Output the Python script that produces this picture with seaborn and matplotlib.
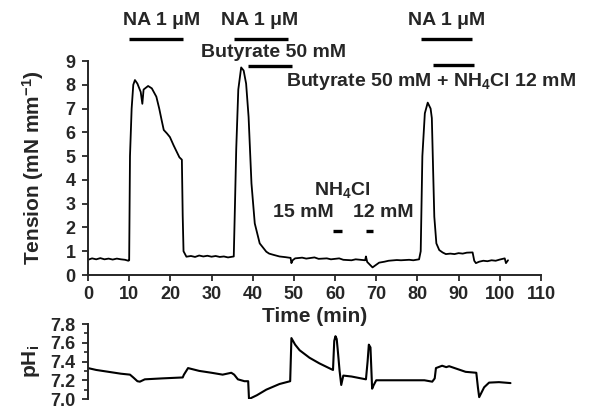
import matplotlib
matplotlib.use("Agg")
import matplotlib.pyplot as plt
import seaborn as sns
import pandas as pd

# ---- data ----
tension_time = [0, 1, 2, 3, 4, 5, 6, 7, 8, 9, 9.8, 10.0, 10.2, 10.6, 11.0, 11.4, 12.0, 12.8, 13.2,
                13.5, 14.6, 15.5, 16.6, 17.3, 17.9, 18.4, 19.2, 19.9, 20.8, 21.5, 22.2, 22.8,
                23.0, 23.2, 23.9, 25, 26, 27, 28, 29, 30, 31, 32, 33, 34, 35.4, 35.7, 36.0, 36.5,
                37.2, 37.8, 38.4, 39.0, 39.7, 40.5, 41.7, 43.3, 44, 45, 46.5, 48, 49.2, 49.4,
                49.7, 50.3, 52, 53, 55, 56, 58, 59, 61, 62, 64, 65, 67.3, 67.5, 67.8, 69.1,
                70.7, 72, 73, 75, 76, 78, 79, 80.4, 80.8, 81.2, 81.8, 82.5, 83.2, 83.5, 83.8,
                84.1, 84.6, 85.3, 86.1, 86.9, 88, 89, 90, 91, 92, 93.4, 93.8, 94.2, 95, 96,
                97, 98, 99, 100, 101.2, 101.5, 102]
tension_value = [0.64, 0.70, 0.66, 0.71, 0.66, 0.69, 0.65, 0.69, 0.66, 0.64, 0.60, 0.62, 5.0,
                 7.0, 8.0, 8.2, 8.05, 7.7, 7.2, 7.8, 7.95, 7.85, 7.5, 7.0, 6.5, 6.1, 5.95, 5.8,
                 5.45, 5.2, 4.95, 4.85, 2.5, 1.0, 0.77, 0.80, 0.76, 0.82, 0.78, 0.81, 0.77,
                 0.80, 0.76, 0.78, 0.74, 0.78, 3.0, 5.3, 7.8, 8.73, 8.6, 8.05, 6.65, 3.85, 2.17,
                 1.33, 0.98, 0.90, 0.85, 0.78, 0.75, 0.72, 0.50, 0.62, 0.70, 0.73, 0.69, 0.74,
                 0.68, 0.70, 0.66, 0.70, 0.64, 0.62, 0.66, 0.62, 0.78, 0.55, 0.32, 0.52, 0.56,
                 0.60, 0.63, 0.62, 0.64, 0.62, 0.66, 1.0, 5.0, 6.8, 7.25, 7.0, 6.6, 4.5, 2.45,
                 1.33, 1.05, 0.95, 0.88, 0.90, 0.88, 0.92, 0.90, 0.94, 0.95, 0.60, 0.50, 0.56,
                 0.60, 0.58, 0.62, 0.60, 0.65, 0.70, 0.50, 0.62]

ph_time = [0, 2, 5, 8, 10.2, 11.0, 12.0, 12.6, 13.8, 18, 23.0, 23.3, 24.3, 27, 30, 32.7, 34.8,
           35.5, 36.4, 38, 38.9, 39.1, 41, 43.3, 46.5, 49.1, 49.4, 50.3, 51.4, 53.8, 56.2, 59,
           59.5, 59.8, 60.1, 60.4, 60.7, 61.1, 61.5, 62, 64, 67.5, 67.9, 68.2, 68.6, 69.0,
           69.4, 70, 75.6, 81.7, 83.6, 84.2, 84.5, 86, 87, 87.7, 89.7, 91.7, 94.3, 94.7, 95,
           96.2, 97.4, 99.8, 102.6]
ph_value = [7.33, 7.31, 7.29, 7.27, 7.26, 7.23, 7.19, 7.185, 7.21, 7.22, 7.23, 7.26, 7.33, 7.30,
            7.28, 7.26, 7.28, 7.26, 7.21, 7.19, 7.19, 7.00, 7.04, 7.10, 7.16, 7.19, 7.65, 7.58,
            7.52, 7.44, 7.38, 7.32, 7.31, 7.62, 7.67, 7.64, 7.50, 7.30, 7.15, 7.25, 7.24, 7.21,
            7.40, 7.58, 7.55, 7.11, 7.15, 7.20, 7.20, 7.20, 7.185, 7.22, 7.33, 7.355, 7.34,
            7.35, 7.32, 7.29, 7.28, 7.12, 7.02, 7.125, 7.175, 7.18, 7.17]

x_ticks = [0, 10, 20, 30, 40, 50, 60, 70, 80, 90, 100, 110]
tension_ticks = [0, 1, 2, 3, 4, 5, 6, 7, 8, 9]
ph_ticks = [7.0, 7.2, 7.4, 7.6, 7.8]
ph_ticks_minor = [7.1, 7.3, 7.5, 7.7]

na_bars = [(10, 23), (35.4, 48.5), (80.8, 93.2)]
na_text_x = [17.9, 41.7, 87.0]
butyrate_bar = (38.8, 49.6)
butyrate_nh4_bar = (83.9, 93.8)
nh4_bars = [(59.4, 61.7), (67.5, 69.3)]

# ---- plotting ----
sns.set_style("ticks")
plt.rcParams['font.family'] = ['Liberation Sans', 'DejaVu Sans']
plt.rcParams['mathtext.fontset'] = 'custom'
plt.rcParams['mathtext.rm'] = 'Liberation Sans:bold'
plt.rcParams['mathtext.it'] = 'Liberation Sans:bold'
plt.rcParams['mathtext.bf'] = 'Liberation Sans:bold'

fig = plt.figure(figsize=(6.01, 4.09), dpi=100)
ax1 = fig.add_axes([0.1464, 0.3276, 0.7537, 0.5232])
ax2 = fig.add_axes([0.1464, 0.0244, 0.7537, 0.1834])
ax2.patch.set_visible(False)

df_t = pd.DataFrame({"time": tension_time, "tension": tension_value})
df_p = pd.DataFrame({"time": ph_time, "ph": ph_value})

sns.lineplot(data=df_t, x="time", y="tension", ax=ax1, color="black", lw=1.3,
             sort=False, estimator=None)
sns.lineplot(data=df_p, x="time", y="ph", ax=ax2, color="black", lw=1.5,
             sort=False, estimator=None)

TICK_FS = 13
for ax in (ax1, ax2):
    ax.set_xlim(0, 110)
    for s in ("top", "right"):
        ax.spines[s].set_visible(False)
    ax.spines["left"].set_linewidth(1.4)
    ax.spines["bottom"].set_linewidth(1.4)
    ax.tick_params(width=1.3, length=4, labelsize=TICK_FS, direction="out")
    ax.tick_params(axis="y", pad=5)
    ax.tick_params(axis="x", pad=4)

ax1.set_ylim(0, 9)
ax1.set_xticks(x_ticks)
ax1.set_yticks(tension_ticks)
ax1.set_xticklabels([str(v) for v in x_ticks], fontweight="bold", fontsize=TICK_FS)
ax1.set_yticklabels([str(v) for v in tension_ticks], fontweight="bold", fontsize=TICK_FS)
ax1.set_xlabel("Time (min)", fontsize=15, fontweight="bold", labelpad=3)
ax1.set_ylabel(r"Tension (mN mm$^{-1}$)", fontsize=15, fontweight="bold", labelpad=14)

ax2.set_ylim(7.0, 7.8)
ax2.set_yticks(ph_ticks)
ax2.set_yticks(ph_ticks_minor, minor=True)
ax2.set_yticklabels([f"{v:.1f}" for v in ph_ticks], fontweight="bold", fontsize=TICK_FS)
ax2.tick_params(axis="y", which="minor", length=3, width=1.2)
ax2.spines["bottom"].set_visible(False)
ax2.set_xticks([])
ax2.set_xlabel("")
ax2.set_ylabel(r"pH$_\mathregular{i}$", fontsize=15, fontweight="bold", labelpad=6)

fig.align_ylabels([ax1, ax2])

txt_kw = dict(fontsize=14, fontweight="bold", ha="center", va="center", clip_on=False)
bar_kw = dict(color="black", lw=2.4, solid_capstyle="butt", clip_on=False)

for (x0, x1), xc in zip(na_bars, na_text_x):
    ax1.plot([x0, x1], [9.92, 9.92], **bar_kw)
    ax1.text(xc, 10.71, "NA 1 μM", **txt_kw)

ax1.plot(list(butyrate_bar), [8.79, 8.79], **bar_kw)
ax1.text(45.0, 9.37, "Butyrate 50 mM", **txt_kw)

ax1.plot(list(butyrate_nh4_bar), [8.85, 8.85], **bar_kw)
ax1.text(83.4, 8.15, r"Butyrate 50 mM + NH$_\mathregular{4}$Cl 12 mM", **txt_kw)

ax1.text(61.8, 3.57, r"NH$_\mathregular{4}$Cl", **txt_kw)
ax1.text(52.4, 2.65, "15 mM", **txt_kw)
ax1.text(71.6, 2.65, "12 mM", **txt_kw)
for x0, x1 in nh4_bars:
    ax1.plot([x0, x1], [1.85, 1.85], **bar_kw)

fig.savefig("out.png", dpi=100)
